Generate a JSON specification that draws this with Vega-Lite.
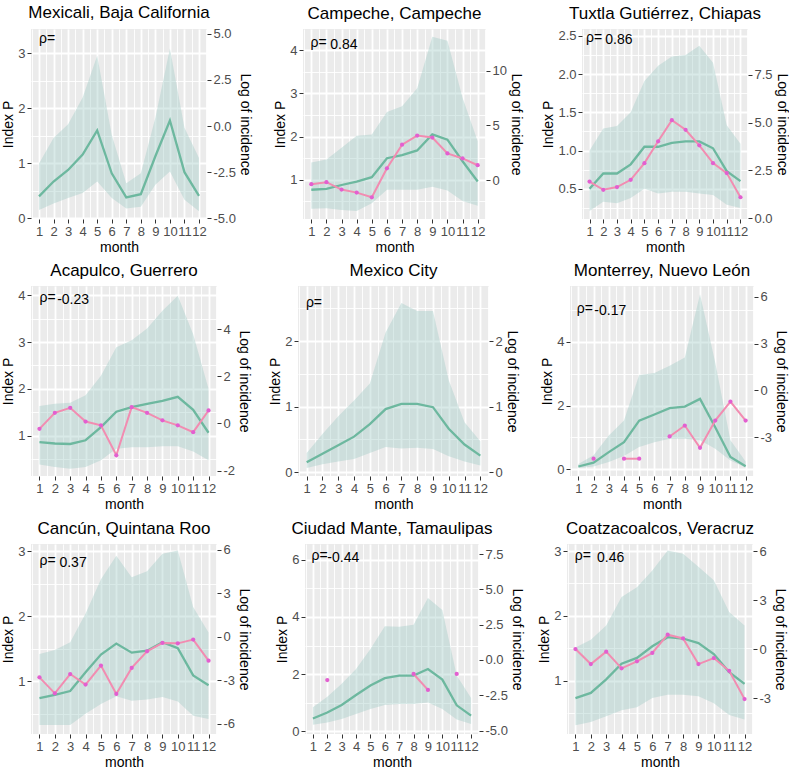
{
"$schema": "https://vega.github.io/schema/vega-lite/v6.json",
"padding": {"left": 1, "top": 3, "right": 0, "bottom": 0},
"background": "white",
"datasets": {
"green": [
{"city":"Mexicali","month":1,"p":0.40,"lo":0.15,"hi":1.00},{"city":"Mexicali","month":2,"p":0.67,"lo":0.27,"hi":1.46},{"city":"Mexicali","month":3,"p":0.88,"lo":0.37,"hi":1.71},{"city":"Mexicali","month":4,"p":1.16,"lo":0.46,"hi":2.20},{"city":"Mexicali","month":5,"p":1.60,"lo":0.67,"hi":2.96},{"city":"Mexicali","month":6,"p":0.82,"lo":0.37,"hi":1.52},{"city":"Mexicali","month":7,"p":0.38,"lo":0.18,"hi":0.64},{"city":"Mexicali","month":8,"p":0.44,"lo":0.21,"hi":0.82},{"city":"Mexicali","month":9,"p":1.13,"lo":0.61,"hi":1.83},{"city":"Mexicali","month":10,"p":1.78,"lo":0.85,"hi":3.09},{"city":"Mexicali","month":11,"p":0.84,"lo":0.34,"hi":1.65},{"city":"Mexicali","month":12,"p":0.41,"lo":0.13,"hi":1.10},
{"city":"Campeche","month":1,"p":0.77,"lo":0.33,"hi":1.40},{"city":"Campeche","month":2,"p":0.79,"lo":0.34,"hi":1.47},{"city":"Campeche","month":3,"p":0.88,"lo":0.30,"hi":1.74},{"city":"Campeche","month":4,"p":0.96,"lo":0.28,"hi":2.02},{"city":"Campeche","month":5,"p":1.06,"lo":0.46,"hi":2.05},{"city":"Campeche","month":6,"p":1.50,"lo":0.77,"hi":2.57},{"city":"Campeche","month":7,"p":1.57,"lo":0.77,"hi":2.70},{"city":"Campeche","month":8,"p":1.68,"lo":0.77,"hi":3.12},{"city":"Campeche","month":9,"p":2.05,"lo":0.84,"hi":4.31},{"city":"Campeche","month":10,"p":1.93,"lo":0.75,"hi":4.22},{"city":"Campeche","month":11,"p":1.43,"lo":0.51,"hi":2.90},{"city":"Campeche","month":12,"p":0.96,"lo":0.40,"hi":1.89},
{"city":"Tuxtla","month":1,"p":0.50,"lo":0.21,"hi":1.00},{"city":"Tuxtla","month":2,"p":0.70,"lo":0.33,"hi":1.29},{"city":"Tuxtla","month":3,"p":0.70,"lo":0.31,"hi":1.32},{"city":"Tuxtla","month":4,"p":0.82,"lo":0.38,"hi":1.50},{"city":"Tuxtla","month":5,"p":1.05,"lo":0.50,"hi":1.91},{"city":"Tuxtla","month":6,"p":1.05,"lo":0.44,"hi":2.11},{"city":"Tuxtla","month":7,"p":1.10,"lo":0.46,"hi":2.23},{"city":"Tuxtla","month":8,"p":1.12,"lo":0.46,"hi":2.25},{"city":"Tuxtla","month":9,"p":1.12,"lo":0.44,"hi":2.37},{"city":"Tuxtla","month":10,"p":1.03,"lo":0.42,"hi":2.15},{"city":"Tuxtla","month":11,"p":0.73,"lo":0.29,"hi":1.33},{"city":"Tuxtla","month":12,"p":0.60,"lo":0.25,"hi":1.09},
{"city":"Acapulco","month":1,"p":0.86,"lo":0.38,"hi":1.63},{"city":"Acapulco","month":2,"p":0.83,"lo":0.33,"hi":1.68},{"city":"Acapulco","month":3,"p":0.82,"lo":0.29,"hi":1.70},{"city":"Acapulco","month":4,"p":0.90,"lo":0.33,"hi":1.86},{"city":"Acapulco","month":5,"p":1.18,"lo":0.47,"hi":2.28},{"city":"Acapulco","month":6,"p":1.51,"lo":0.72,"hi":2.89},{"city":"Acapulco","month":7,"p":1.61,"lo":0.75,"hi":3.04},{"city":"Acapulco","month":8,"p":1.68,"lo":0.75,"hi":3.29},{"city":"Acapulco","month":9,"p":1.74,"lo":0.77,"hi":3.67},{"city":"Acapulco","month":10,"p":1.83,"lo":0.77,"hi":3.99},{"city":"Acapulco","month":11,"p":1.55,"lo":0.66,"hi":3.17},{"city":"Acapulco","month":12,"p":1.06,"lo":0.47,"hi":2.00},
{"city":"CDMX","month":1,"p":0.15,"lo":0.06,"hi":0.29},{"city":"CDMX","month":2,"p":0.28,"lo":0.12,"hi":0.58},{"city":"CDMX","month":3,"p":0.41,"lo":0.16,"hi":0.85},{"city":"CDMX","month":4,"p":0.54,"lo":0.20,"hi":1.09},{"city":"CDMX","month":5,"p":0.73,"lo":0.29,"hi":1.35},{"city":"CDMX","month":6,"p":0.96,"lo":0.38,"hi":2.13},{"city":"CDMX","month":7,"p":1.04,"lo":0.36,"hi":2.58},{"city":"CDMX","month":8,"p":1.04,"lo":0.37,"hi":2.46},{"city":"CDMX","month":9,"p":0.99,"lo":0.35,"hi":2.46},{"city":"CDMX","month":10,"p":0.66,"lo":0.24,"hi":1.40},{"city":"CDMX","month":11,"p":0.42,"lo":0.16,"hi":0.76},{"city":"CDMX","month":12,"p":0.25,"lo":0.10,"hi":0.47},
{"city":"Monterrey","month":1,"p":0.09,"lo":0.04,"hi":0.17},{"city":"Monterrey","month":2,"p":0.21,"lo":0.09,"hi":0.44},{"city":"Monterrey","month":3,"p":0.54,"lo":0.23,"hi":1.06},{"city":"Monterrey","month":4,"p":0.85,"lo":0.42,"hi":1.53},{"city":"Monterrey","month":5,"p":1.53,"lo":0.70,"hi":2.96},{"city":"Monterrey","month":6,"p":1.72,"lo":0.85,"hi":3.02},{"city":"Monterrey","month":7,"p":1.92,"lo":0.96,"hi":3.25},{"city":"Monterrey","month":8,"p":1.97,"lo":0.96,"hi":3.51},{"city":"Monterrey","month":9,"p":2.21,"lo":0.91,"hi":5.49},{"city":"Monterrey","month":10,"p":1.32,"lo":0.65,"hi":3.35},{"city":"Monterrey","month":11,"p":0.39,"lo":0.28,"hi":0.91},{"city":"Monterrey","month":12,"p":0.10,"lo":0.06,"hi":0.25},
{"city":"Cancun","month":1,"p":0.74,"lo":0.33,"hi":1.42},{"city":"Cancun","month":2,"p":0.79,"lo":0.33,"hi":1.48},{"city":"Cancun","month":3,"p":0.85,"lo":0.33,"hi":1.60},{"city":"Cancun","month":4,"p":1.14,"lo":0.50,"hi":2.04},{"city":"Cancun","month":5,"p":1.41,"lo":0.65,"hi":2.57},{"city":"Cancun","month":6,"p":1.58,"lo":0.77,"hi":2.93},{"city":"Cancun","month":7,"p":1.44,"lo":0.70,"hi":2.60},{"city":"Cancun","month":8,"p":1.47,"lo":0.72,"hi":2.69},{"city":"Cancun","month":9,"p":1.60,"lo":0.76,"hi":2.96},{"city":"Cancun","month":10,"p":1.51,"lo":0.69,"hi":3.01},{"city":"Cancun","month":11,"p":1.09,"lo":0.47,"hi":2.14},{"city":"Cancun","month":12,"p":0.94,"lo":0.42,"hi":1.75},
{"city":"Mante","month":1,"p":0.45,"lo":0.23,"hi":0.84},{"city":"Mante","month":2,"p":0.66,"lo":0.31,"hi":1.21},{"city":"Mante","month":3,"p":0.92,"lo":0.43,"hi":1.66},{"city":"Mante","month":4,"p":1.27,"lo":0.61,"hi":2.18},{"city":"Mante","month":5,"p":1.60,"lo":0.78,"hi":2.88},{"city":"Mante","month":6,"p":1.86,"lo":0.92,"hi":3.67},{"city":"Mante","month":7,"p":1.95,"lo":0.96,"hi":3.66},{"city":"Mante","month":8,"p":1.95,"lo":0.96,"hi":3.73},{"city":"Mante","month":9,"p":2.18,"lo":1.01,"hi":4.66},{"city":"Mante","month":10,"p":1.81,"lo":0.78,"hi":4.24},{"city":"Mante","month":11,"p":0.91,"lo":0.41,"hi":1.95},{"city":"Mante","month":12,"p":0.55,"lo":0.26,"hi":1.17},
{"city":"Coatza","month":1,"p":0.73,"lo":0.31,"hi":1.51},{"city":"Coatza","month":2,"p":0.81,"lo":0.36,"hi":1.63},{"city":"Coatza","month":3,"p":1.02,"lo":0.45,"hi":1.85},{"city":"Coatza","month":4,"p":1.26,"lo":0.54,"hi":2.29},{"city":"Coatza","month":5,"p":1.35,"lo":0.59,"hi":2.44},{"city":"Coatza","month":6,"p":1.53,"lo":0.73,"hi":2.70},{"city":"Coatza","month":7,"p":1.67,"lo":0.78,"hi":3.01},{"city":"Coatza","month":8,"p":1.65,"lo":0.78,"hi":2.96},{"city":"Coatza","month":9,"p":1.58,"lo":0.76,"hi":2.76},{"city":"Coatza","month":10,"p":1.41,"lo":0.65,"hi":2.55},{"city":"Coatza","month":11,"p":1.13,"lo":0.47,"hi":2.06},{"city":"Coatza","month":12,"p":0.95,"lo":0.40,"hi":1.85}
],
"pink": [
{"city":"Campeche","month":1,"v":-0.37,"seg":"a"},{"city":"Campeche","month":2,"v":-0.19,"seg":"a"},{"city":"Campeche","month":3,"v":-0.86,"seg":"a"},{"city":"Campeche","month":4,"v":-1.14,"seg":"a"},{"city":"Campeche","month":5,"v":-1.57,"seg":"a"},{"city":"Campeche","month":6,"v":1.08,"seg":"a"},{"city":"Campeche","month":7,"v":3.24,"seg":"a"},{"city":"Campeche","month":8,"v":4.07,"seg":"a"},{"city":"Campeche","month":9,"v":3.89,"seg":"a"},{"city":"Campeche","month":10,"v":2.44,"seg":"a"},{"city":"Campeche","month":11,"v":1.98,"seg":"a"},{"city":"Campeche","month":12,"v":1.36,"seg":"a"},
{"city":"Tuxtla","month":1,"v":1.92,"seg":"a"},{"city":"Tuxtla","month":2,"v":1.49,"seg":"a"},{"city":"Tuxtla","month":3,"v":1.63,"seg":"a"},{"city":"Tuxtla","month":4,"v":2.01,"seg":"a"},{"city":"Tuxtla","month":5,"v":2.88,"seg":"a"},{"city":"Tuxtla","month":6,"v":4.02,"seg":"a"},{"city":"Tuxtla","month":7,"v":5.12,"seg":"a"},{"city":"Tuxtla","month":8,"v":4.62,"seg":"a"},{"city":"Tuxtla","month":9,"v":3.81,"seg":"a"},{"city":"Tuxtla","month":10,"v":2.88,"seg":"a"},{"city":"Tuxtla","month":11,"v":2.36,"seg":"a"},{"city":"Tuxtla","month":12,"v":1.10,"seg":"a"},
{"city":"Acapulco","month":1,"v":-0.23,"seg":"a"},{"city":"Acapulco","month":2,"v":0.45,"seg":"a"},{"city":"Acapulco","month":3,"v":0.66,"seg":"a"},{"city":"Acapulco","month":4,"v":0.08,"seg":"a"},{"city":"Acapulco","month":5,"v":-0.08,"seg":"a"},{"city":"Acapulco","month":6,"v":-1.35,"seg":"a"},{"city":"Acapulco","month":7,"v":0.69,"seg":"a"},{"city":"Acapulco","month":8,"v":0.45,"seg":"a"},{"city":"Acapulco","month":9,"v":0.13,"seg":"a"},{"city":"Acapulco","month":10,"v":-0.08,"seg":"a"},{"city":"Acapulco","month":11,"v":-0.37,"seg":"a"},{"city":"Acapulco","month":12,"v":0.55,"seg":"a"},
{"city":"Monterrey","month":2,"v":-4.39,"seg":"a"},{"city":"Monterrey","month":4,"v":-4.39,"seg":"b"},{"city":"Monterrey","month":5,"v":-4.39,"seg":"b"},{"city":"Monterrey","month":7,"v":-2.96,"seg":"c"},{"city":"Monterrey","month":8,"v":-2.26,"seg":"c"},{"city":"Monterrey","month":9,"v":-3.69,"seg":"c"},{"city":"Monterrey","month":10,"v":-1.94,"seg":"c"},{"city":"Monterrey","month":11,"v":-0.72,"seg":"c"},{"city":"Monterrey","month":12,"v":-1.94,"seg":"c"},
{"city":"Cancun","month":1,"v":-2.79,"seg":"a"},{"city":"Cancun","month":2,"v":-3.89,"seg":"a"},{"city":"Cancun","month":3,"v":-2.56,"seg":"a"},{"city":"Cancun","month":4,"v":-3.29,"seg":"a"},{"city":"Cancun","month":5,"v":-1.98,"seg":"a"},{"city":"Cancun","month":6,"v":-3.93,"seg":"a"},{"city":"Cancun","month":7,"v":-2.14,"seg":"a"},{"city":"Cancun","month":8,"v":-1.00,"seg":"a"},{"city":"Cancun","month":9,"v":-0.42,"seg":"a"},{"city":"Cancun","month":10,"v":-0.45,"seg":"a"},{"city":"Cancun","month":11,"v":-0.19,"seg":"a"},{"city":"Cancun","month":12,"v":-1.64,"seg":"a"},
{"city":"Mante","month":2,"v":-1.42,"seg":"a"},{"city":"Mante","month":8,"v":-0.99,"seg":"b"},{"city":"Mante","month":9,"v":-2.12,"seg":"b"},{"city":"Mante","month":11,"v":-0.99,"seg":"c"},
{"city":"Coatza","month":1,"v":0.02,"seg":"a"},{"city":"Coatza","month":2,"v":-0.90,"seg":"a"},{"city":"Coatza","month":3,"v":-0.14,"seg":"a"},{"city":"Coatza","month":4,"v":-1.16,"seg":"a"},{"city":"Coatza","month":5,"v":-0.73,"seg":"a"},{"city":"Coatza","month":6,"v":-0.22,"seg":"a"},{"city":"Coatza","month":7,"v":0.90,"seg":"a"},{"city":"Coatza","month":8,"v":0.67,"seg":"a"},{"city":"Coatza","month":9,"v":-0.90,"seg":"a"},{"city":"Coatza","month":10,"v":-0.53,"seg":"a"},{"city":"Coatza","month":11,"v":-1.31,"seg":"a"},{"city":"Coatza","month":12,"v":-3.04,"seg":"a"}
],
"rho": [
{"city":"Mexicali","r":""},{"city":"Campeche","r":"0.84"},{"city":"Tuxtla","r":"0.86"},{"city":"Acapulco","r":"-0.23"},{"city":"CDMX","r":""},{"city":"Monterrey","r":"-0.17"},{"city":"Cancun","r":"0.37"},{"city":"Mante","r":"-0.44"},{"city":"Coatza","r":"0.46"}
]
},
"vconcat": [
{"hconcat": [
{"title": "Mexicali, Baja California", "width": 176, "height": 190,
 "layer": [
  {"layer": [
   {"data": {"name": "green"}, "transform": [{"filter": "datum.city === 'Mexicali'"}],
    "mark": {"type": "area", "color": "#9FCAC5", "opacity": 0.4},
    "encoding": {
     "x": {"field": "month", "type": "quantitative", "scale": {"domain": [0.45, 12.55], "nice": false, "zero": false}, "axis": {"title": "month", "format": ".2f", "tickCount": 100, "labelOverlap": false, "gridColor": "white", "values": [0.5,1,1.5,2,2.5,3,3.5,4,4.5,5,5.5,6,6.5,7,7.5,8,8.5,9,9.5,10,10.5,11,11.5,12,12.5], "labelExpr": "datum.value % 1 === 0 ? format(datum.value, 'd') : ''", "tickOpacity": {"condition": {"test": "datum.value % 1 !== 0", "value": 0}, "value": 1}, "gridWidth": {"condition": {"test": "datum.value % 1 !== 0", "value": 0.9}, "value": 1.8}, "grid": true}},
     "y": {"field": "lo", "type": "quantitative", "title": "Index P", "scale": {"domain": [-0.012, 3.445], "nice": false, "zero": false}, "axis": {"format": ".2f", "tickCount": 100, "labelOverlap": false, "gridColor": "white", "values": [0,0.5,1,1.5,2,2.5,3], "labelExpr": "indexof([0,1,2,3], datum.value) >= 0 ? format(datum.value, 'd') : ''", "tickOpacity": {"condition": {"test": "indexof([0,1,2,3], datum.value) < 0", "value": 0}, "value": 1}, "gridWidth": {"condition": {"test": "indexof([0,1,2,3], datum.value) < 0", "value": 0.9}, "value": 1.8}, "grid": true}},
     "y2": {"field": "hi"}}},
   {"data": {"name": "green"}, "transform": [{"filter": "datum.city === 'Mexicali'"}],
    "mark": {"type": "line", "color": "#6DB89F", "strokeWidth": 2.3},
    "encoding": {"x": {"field": "month", "type": "quantitative"}, "y": {"field": "p", "type": "quantitative", "title": "Index P"}}},
   {"data": {"name": "rho"}, "transform": [{"filter": "datum.city === 'Mexicali'"}],
    "mark": {"type": "text", "align": "left", "baseline": "top", "fontSize": 14, "text": "ρ=", "color": "black"},
    "encoding": {"x": {"datum": 1, "type": "quantitative"}, "y": {"datum": 3.39, "type": "quantitative"}}}
  ]},
  {"layer": [
   {"data": {"name": "pink"}, "transform": [{"filter": "datum.city === 'Mexicali'"}],
    "mark": {"type": "line", "color": "#F28CB1", "strokeWidth": 2},
    "encoding": {"x": {"field": "month", "type": "quantitative"}, "detail": {"field": "seg"},
     "y": {"field": "v", "type": "quantitative", "title": "Log of incidence", "scale": {"domain": [-5.05, 5.27], "nice": false, "zero": false}, "axis": {"orient": "right", "grid": false, "tickCount": 100, "labelOverlap": false, "values": [-5,-2.5,0,2.5,5], "format": ".1f", "labelExpr": "replace(datum.label, '−', '-')"}}}},
   {"data": {"name": "pink"}, "transform": [{"filter": "datum.city === 'Mexicali'"}],
    "mark": {"type": "circle", "color": "#E35FD0", "size": 18, "opacity": 1},
    "encoding": {"x": {"field": "month", "type": "quantitative"}, "y": {"field": "v", "type": "quantitative", "title": "Log of incidence"}}}
  ]}
 ],
 "resolve": {"scale": {"y": "independent"}, "axis": {"y": "independent"}}},
{"title": "Campeche, Campeche", "width": 183, "height": 190,
 "layer": [
  {"layer": [
   {"data": {"name": "green"}, "transform": [{"filter": "datum.city === 'Campeche'"}],
    "mark": {"type": "area", "color": "#9FCAC5", "opacity": 0.4},
    "encoding": {
     "x": {"field": "month", "type": "quantitative", "scale": {"domain": [0.45, 12.55], "nice": false, "zero": false}, "axis": {"title": "month", "format": ".2f", "tickCount": 100, "labelOverlap": false, "gridColor": "white", "values": [0.5,1,1.5,2,2.5,3,3.5,4,4.5,5,5.5,6,6.5,7,7.5,8,8.5,9,9.5,10,10.5,11,11.5,12,12.5], "labelExpr": "datum.value % 1 === 0 ? format(datum.value, 'd') : ''", "tickOpacity": {"condition": {"test": "datum.value % 1 !== 0", "value": 0}, "value": 1}, "gridWidth": {"condition": {"test": "datum.value % 1 !== 0", "value": 0.9}, "value": 1.8}, "grid": true}},
     "y": {"field": "lo", "type": "quantitative", "title": "Index P", "scale": {"domain": [0.093, 4.49], "nice": false, "zero": false}, "axis": {"format": ".2f", "tickCount": 100, "labelOverlap": false, "gridColor": "white", "values": [0.5,1,1.5,2,2.5,3,3.5,4], "labelExpr": "indexof([1,2,3,4], datum.value) >= 0 ? format(datum.value, 'd') : ''", "tickOpacity": {"condition": {"test": "indexof([1,2,3,4], datum.value) < 0", "value": 0}, "value": 1}, "gridWidth": {"condition": {"test": "indexof([1,2,3,4], datum.value) < 0", "value": 0.9}, "value": 1.8}, "grid": true}},
     "y2": {"field": "hi"}}},
   {"data": {"name": "green"}, "transform": [{"filter": "datum.city === 'Campeche'"}],
    "mark": {"type": "line", "color": "#6DB89F", "strokeWidth": 2.3},
    "encoding": {"x": {"field": "month", "type": "quantitative"}, "y": {"field": "p", "type": "quantitative", "title": "Index P"}}},
   {"data": {"name": "rho"}, "transform": [{"filter": "datum.city === 'Campeche'"}],
    "mark": {"type": "text", "align": "left", "baseline": "top", "fontSize": 14, "text": "ρ=", "color": "black"},
    "encoding": {"x": {"datum": 0.95, "type": "quantitative"}, "y": {"datum": 4.33, "type": "quantitative"}}},
   {"data": {"name": "rho"}, "transform": [{"filter": "datum.city === 'Campeche'"}],
    "mark": {"type": "text", "align": "left", "baseline": "top", "fontSize": 14, "dy": 2, "color": "black"},
    "encoding": {"x": {"datum": 2.25, "type": "quantitative"}, "y": {"datum": 4.33, "type": "quantitative"}, "text": {"field": "r"}}}
  ]},
  {"layer": [
   {"data": {"name": "pink"}, "transform": [{"filter": "datum.city === 'Campeche'"}],
    "mark": {"type": "line", "color": "#F28CB1", "strokeWidth": 2},
    "encoding": {"x": {"field": "month", "type": "quantitative"}, "detail": {"field": "seg"},
     "y": {"field": "v", "type": "quantitative", "title": "Log of incidence", "scale": {"domain": [-3.55, 13.8], "nice": false, "zero": false}, "axis": {"orient": "right", "grid": false, "tickCount": 100, "labelOverlap": false, "values": [0,5,10], "format": "d", "labelExpr": "replace(datum.label, '−', '-')"}}}},
   {"data": {"name": "pink"}, "transform": [{"filter": "datum.city === 'Campeche'"}],
    "mark": {"type": "circle", "color": "#E35FD0", "size": 18, "opacity": 1},
    "encoding": {"x": {"field": "month", "type": "quantitative"}, "y": {"field": "v", "type": "quantitative", "title": "Log of incidence"}}}
  ]}
 ],
 "resolve": {"scale": {"y": "independent"}, "axis": {"y": "independent"}}},
{"title": "Tuxtla Gutiérrez, Chiapas", "width": 166, "height": 190,
 "layer": [
  {"layer": [
   {"data": {"name": "green"}, "transform": [{"filter": "datum.city === 'Tuxtla'"}],
    "mark": {"type": "area", "color": "#9FCAC5", "opacity": 0.4},
    "encoding": {
     "x": {"field": "month", "type": "quantitative", "scale": {"domain": [0.45, 12.55], "nice": false, "zero": false}, "axis": {"title": "month", "format": ".2f", "tickCount": 100, "labelOverlap": false, "gridColor": "white", "values": [0.5,1,1.5,2,2.5,3,3.5,4,4.5,5,5.5,6,6.5,7,7.5,8,8.5,9,9.5,10,10.5,11,11.5,12,12.5], "labelExpr": "datum.value % 1 === 0 ? format(datum.value, 'd') : ''", "tickOpacity": {"condition": {"test": "datum.value % 1 !== 0", "value": 0}, "value": 1}, "gridWidth": {"condition": {"test": "datum.value % 1 !== 0", "value": 0.9}, "value": 1.8}, "grid": true}},
     "y": {"field": "lo", "type": "quantitative", "title": "Index P", "scale": {"domain": [0.105, 2.59], "nice": false, "zero": false}, "axis": {"format": ".2f", "tickCount": 100, "labelOverlap": false, "gridColor": "white", "values": [0.25,0.5,0.75,1,1.25,1.5,1.75,2,2.25,2.5], "labelExpr": "indexof([0.5,1,1.5,2,2.5], datum.value) >= 0 ? format(datum.value, '.1f') : ''", "tickOpacity": {"condition": {"test": "indexof([0.5,1,1.5,2,2.5], datum.value) < 0", "value": 0}, "value": 1}, "gridWidth": {"condition": {"test": "indexof([0.5,1,1.5,2,2.5], datum.value) < 0", "value": 0.9}, "value": 1.8}, "grid": true}},
     "y2": {"field": "hi"}}},
   {"data": {"name": "green"}, "transform": [{"filter": "datum.city === 'Tuxtla'"}],
    "mark": {"type": "line", "color": "#6DB89F", "strokeWidth": 2.3},
    "encoding": {"x": {"field": "month", "type": "quantitative"}, "y": {"field": "p", "type": "quantitative", "title": "Index P"}}},
   {"data": {"name": "rho"}, "transform": [{"filter": "datum.city === 'Tuxtla'"}],
    "mark": {"type": "text", "align": "left", "baseline": "top", "fontSize": 14, "text": "ρ=", "color": "black"},
    "encoding": {"x": {"datum": 0.75, "type": "quantitative"}, "y": {"datum": 2.56, "type": "quantitative"}}},
   {"data": {"name": "rho"}, "transform": [{"filter": "datum.city === 'Tuxtla'"}],
    "mark": {"type": "text", "align": "left", "baseline": "top", "fontSize": 14, "dy": 2, "color": "black"},
    "encoding": {"x": {"datum": 2.15, "type": "quantitative"}, "y": {"datum": 2.56, "type": "quantitative"}, "text": {"field": "r"}}}
  ]},
  {"layer": [
   {"data": {"name": "pink"}, "transform": [{"filter": "datum.city === 'Tuxtla'"}],
    "mark": {"type": "line", "color": "#F28CB1", "strokeWidth": 2},
    "encoding": {"x": {"field": "month", "type": "quantitative"}, "detail": {"field": "seg"},
     "y": {"field": "v", "type": "quantitative", "title": "Log of incidence", "scale": {"domain": [-0.035, 9.88], "nice": false, "zero": false}, "axis": {"orient": "right", "grid": false, "tickCount": 100, "labelOverlap": false, "values": [0,2.5,5,7.5], "format": ".1f", "labelExpr": "replace(datum.label, '−', '-')"}}}},
   {"data": {"name": "pink"}, "transform": [{"filter": "datum.city === 'Tuxtla'"}],
    "mark": {"type": "circle", "color": "#E35FD0", "size": 18, "opacity": 1},
    "encoding": {"x": {"field": "month", "type": "quantitative"}, "y": {"field": "v", "type": "quantitative", "title": "Log of incidence"}}}
  ]}
 ],
 "resolve": {"scale": {"y": "independent"}, "axis": {"y": "independent"}}}
], "spacing": 96, "bounds": "flush"},
{"hconcat": [
{"title": "Acapulco, Guerrero", "width": 186, "height": 190,
 "layer": [
  {"layer": [
   {"data": {"name": "green"}, "transform": [{"filter": "datum.city === 'Acapulco'"}],
    "mark": {"type": "area", "color": "#9FCAC5", "opacity": 0.4},
    "encoding": {
     "x": {"field": "month", "type": "quantitative", "scale": {"domain": [0.45, 12.55], "nice": false, "zero": false}, "axis": {"title": "month", "format": ".2f", "tickCount": 100, "labelOverlap": false, "gridColor": "white", "values": [0.5,1,1.5,2,2.5,3,3.5,4,4.5,5,5.5,6,6.5,7,7.5,8,8.5,9,9.5,10,10.5,11,11.5,12,12.5], "labelExpr": "datum.value % 1 === 0 ? format(datum.value, 'd') : ''", "tickOpacity": {"condition": {"test": "datum.value % 1 !== 0", "value": 0}, "value": 1}, "gridWidth": {"condition": {"test": "datum.value % 1 !== 0", "value": 0.9}, "value": 1.8}, "grid": true}},
     "y": {"field": "lo", "type": "quantitative", "title": "Index P", "scale": {"domain": [0.135, 4.2], "nice": false, "zero": false}, "axis": {"format": ".2f", "tickCount": 100, "labelOverlap": false, "gridColor": "white", "values": [0.5,1,1.5,2,2.5,3,3.5,4], "labelExpr": "indexof([1,2,3,4], datum.value) >= 0 ? format(datum.value, 'd') : ''", "tickOpacity": {"condition": {"test": "indexof([1,2,3,4], datum.value) < 0", "value": 0}, "value": 1}, "gridWidth": {"condition": {"test": "indexof([1,2,3,4], datum.value) < 0", "value": 0.9}, "value": 1.8}, "grid": true}},
     "y2": {"field": "hi"}}},
   {"data": {"name": "green"}, "transform": [{"filter": "datum.city === 'Acapulco'"}],
    "mark": {"type": "line", "color": "#6DB89F", "strokeWidth": 2.3},
    "encoding": {"x": {"field": "month", "type": "quantitative"}, "y": {"field": "p", "type": "quantitative", "title": "Index P"}}},
   {"data": {"name": "rho"}, "transform": [{"filter": "datum.city === 'Acapulco'"}],
    "mark": {"type": "text", "align": "left", "baseline": "top", "fontSize": 14, "text": "ρ=", "color": "black"},
    "encoding": {"x": {"datum": 1, "type": "quantitative"}, "y": {"datum": 4.09, "type": "quantitative"}}},
   {"data": {"name": "rho"}, "transform": [{"filter": "datum.city === 'Acapulco'"}],
    "mark": {"type": "text", "align": "left", "baseline": "top", "fontSize": 14, "dy": 2, "color": "black"},
    "encoding": {"x": {"datum": 2.15, "type": "quantitative"}, "y": {"datum": 4.09, "type": "quantitative"}, "text": {"field": "r"}}}
  ]},
  {"layer": [
   {"data": {"name": "pink"}, "transform": [{"filter": "datum.city === 'Acapulco'"}],
    "mark": {"type": "line", "color": "#F28CB1", "strokeWidth": 2},
    "encoding": {"x": {"field": "month", "type": "quantitative"}, "detail": {"field": "seg"},
     "y": {"field": "v", "type": "quantitative", "title": "Log of incidence", "scale": {"domain": [-2.23, 5.83], "nice": false, "zero": false}, "axis": {"orient": "right", "grid": false, "tickCount": 100, "labelOverlap": false, "values": [-2,0,2,4], "format": "d", "labelExpr": "replace(datum.label, '−', '-')"}}}},
   {"data": {"name": "pink"}, "transform": [{"filter": "datum.city === 'Acapulco'"}],
    "mark": {"type": "circle", "color": "#E35FD0", "size": 18, "opacity": 1},
    "encoding": {"x": {"field": "month", "type": "quantitative"}, "y": {"field": "v", "type": "quantitative", "title": "Log of incidence"}}}
  ]}
 ],
 "resolve": {"scale": {"y": "independent"}, "axis": {"y": "independent"}}},
{"title": "Mexico City", "width": 191, "height": 190,
 "layer": [
  {"layer": [
   {"data": {"name": "green"}, "transform": [{"filter": "datum.city === 'CDMX'"}],
    "mark": {"type": "area", "color": "#9FCAC5", "opacity": 0.4},
    "encoding": {
     "x": {"field": "month", "type": "quantitative", "scale": {"domain": [0.45, 12.55], "nice": false, "zero": false}, "axis": {"title": "month", "format": ".2f", "tickCount": 100, "labelOverlap": false, "gridColor": "white", "values": [0.5,1,1.5,2,2.5,3,3.5,4,4.5,5,5.5,6,6.5,7,7.5,8,8.5,9,9.5,10,10.5,11,11.5,12,12.5], "labelExpr": "datum.value % 1 === 0 ? format(datum.value, 'd') : ''", "tickOpacity": {"condition": {"test": "datum.value % 1 !== 0", "value": 0}, "value": 1}, "gridWidth": {"condition": {"test": "datum.value % 1 !== 0", "value": 0.9}, "value": 1.8}, "grid": true}},
     "y": {"field": "lo", "type": "quantitative", "title": "Index P", "scale": {"domain": [-0.061, 2.84], "nice": false, "zero": false}, "axis": {"format": ".2f", "tickCount": 100, "labelOverlap": false, "gridColor": "white", "values": [0,0.5,1,1.5,2,2.5], "labelExpr": "indexof([0,1,2], datum.value) >= 0 ? format(datum.value, 'd') : ''", "tickOpacity": {"condition": {"test": "indexof([0,1,2], datum.value) < 0", "value": 0}, "value": 1}, "gridWidth": {"condition": {"test": "indexof([0,1,2], datum.value) < 0", "value": 0.9}, "value": 1.8}, "grid": true}},
     "y2": {"field": "hi"}}},
   {"data": {"name": "green"}, "transform": [{"filter": "datum.city === 'CDMX'"}],
    "mark": {"type": "line", "color": "#6DB89F", "strokeWidth": 2.3},
    "encoding": {"x": {"field": "month", "type": "quantitative"}, "y": {"field": "p", "type": "quantitative", "title": "Index P"}}},
   {"data": {"name": "rho"}, "transform": [{"filter": "datum.city === 'CDMX'"}],
    "mark": {"type": "text", "align": "left", "baseline": "top", "fontSize": 14, "text": "ρ=", "color": "black"},
    "encoding": {"x": {"datum": 0.95, "type": "quantitative"}, "y": {"datum": 2.69, "type": "quantitative"}}}
  ]},
  {"layer": [
   {"data": {"name": "pink"}, "transform": [{"filter": "datum.city === 'CDMX'"}],
    "mark": {"type": "line", "color": "#F28CB1", "strokeWidth": 2},
    "encoding": {"x": {"field": "month", "type": "quantitative"}, "detail": {"field": "seg"},
     "y": {"field": "v", "type": "quantitative", "title": "Log of incidence", "scale": {"domain": [-0.061, 2.84], "nice": false, "zero": false}, "axis": {"orient": "right", "grid": false, "tickCount": 100, "labelOverlap": false, "values": [0,1,2], "format": "d", "labelExpr": "replace(datum.label, '−', '-')"}}}},
   {"data": {"name": "pink"}, "transform": [{"filter": "datum.city === 'CDMX'"}],
    "mark": {"type": "circle", "color": "#E35FD0", "size": 18, "opacity": 1},
    "encoding": {"x": {"field": "month", "type": "quantitative"}, "y": {"field": "v", "type": "quantitative", "title": "Log of incidence"}}}
  ]}
 ],
 "resolve": {"scale": {"y": "independent"}, "axis": {"y": "independent"}}},
{"title": "Monterrey, Nuevo León", "width": 184, "height": 190,
 "layer": [
  {"layer": [
   {"data": {"name": "green"}, "transform": [{"filter": "datum.city === 'Monterrey'"}],
    "mark": {"type": "area", "color": "#9FCAC5", "opacity": 0.4},
    "encoding": {
     "x": {"field": "month", "type": "quantitative", "scale": {"domain": [0.45, 12.55], "nice": false, "zero": false}, "axis": {"title": "month", "format": ".2f", "tickCount": 100, "labelOverlap": false, "gridColor": "white", "values": [0.5,1,1.5,2,2.5,3,3.5,4,4.5,5,5.5,6,6.5,7,7.5,8,8.5,9,9.5,10,10.5,11,11.5,12,12.5], "labelExpr": "datum.value % 1 === 0 ? format(datum.value, 'd') : ''", "tickOpacity": {"condition": {"test": "datum.value % 1 !== 0", "value": 0}, "value": 1}, "gridWidth": {"condition": {"test": "datum.value % 1 !== 0", "value": 0.9}, "value": 1.8}, "grid": true}},
     "y": {"field": "lo", "type": "quantitative", "title": "Index P", "scale": {"domain": [-0.208, 5.75], "nice": false, "zero": false}, "axis": {"format": ".2f", "tickCount": 100, "labelOverlap": false, "gridColor": "white", "values": [0,1,2,3,4,5], "labelExpr": "indexof([0,2,4], datum.value) >= 0 ? format(datum.value, 'd') : ''", "tickOpacity": {"condition": {"test": "indexof([0,2,4], datum.value) < 0", "value": 0}, "value": 1}, "gridWidth": {"condition": {"test": "indexof([0,2,4], datum.value) < 0", "value": 0.9}, "value": 1.8}, "grid": true}},
     "y2": {"field": "hi"}}},
   {"data": {"name": "green"}, "transform": [{"filter": "datum.city === 'Monterrey'"}],
    "mark": {"type": "line", "color": "#6DB89F", "strokeWidth": 2.3},
    "encoding": {"x": {"field": "month", "type": "quantitative"}, "y": {"field": "p", "type": "quantitative", "title": "Index P"}}},
   {"data": {"name": "rho"}, "transform": [{"filter": "datum.city === 'Monterrey'"}],
    "mark": {"type": "text", "align": "left", "baseline": "top", "fontSize": 14, "text": "ρ=", "color": "black"},
    "encoding": {"x": {"datum": 0.9, "type": "quantitative"}, "y": {"datum": 5.25, "type": "quantitative"}}},
   {"data": {"name": "rho"}, "transform": [{"filter": "datum.city === 'Monterrey'"}],
    "mark": {"type": "text", "align": "left", "baseline": "top", "fontSize": 14, "dy": 2, "color": "black"},
    "encoding": {"x": {"datum": 2.05, "type": "quantitative"}, "y": {"datum": 5.25, "type": "quantitative"}, "text": {"field": "r"}}}
  ]},
  {"layer": [
   {"data": {"name": "pink"}, "transform": [{"filter": "datum.city === 'Monterrey'"}],
    "mark": {"type": "line", "color": "#F28CB1", "strokeWidth": 2},
    "encoding": {"x": {"field": "month", "type": "quantitative"}, "detail": {"field": "seg"},
     "y": {"field": "v", "type": "quantitative", "title": "Log of incidence", "scale": {"domain": [-5.5, 6.7], "nice": false, "zero": false}, "axis": {"orient": "right", "grid": false, "tickCount": 100, "labelOverlap": false, "values": [-3,0,3,6], "format": "d", "labelExpr": "replace(datum.label, '−', '-')"}}}},
   {"data": {"name": "pink"}, "transform": [{"filter": "datum.city === 'Monterrey'"}],
    "mark": {"type": "circle", "color": "#E35FD0", "size": 18, "opacity": 1},
    "encoding": {"x": {"field": "month", "type": "quantitative"}, "y": {"field": "v", "type": "quantitative", "title": "Log of incidence"}}}
  ]}
 ],
 "resolve": {"scale": {"y": "independent"}, "axis": {"y": "independent"}}}
], "spacing": 81, "bounds": "flush"},
{"hconcat": [
{"title": "Cancún, Quintana Roo", "width": 186, "height": 190,
 "layer": [
  {"layer": [
   {"data": {"name": "green"}, "transform": [{"filter": "datum.city === 'Cancun'"}],
    "mark": {"type": "area", "color": "#9FCAC5", "opacity": 0.4},
    "encoding": {
     "x": {"field": "month", "type": "quantitative", "scale": {"domain": [0.45, 12.55], "nice": false, "zero": false}, "axis": {"title": "month", "format": ".2f", "tickCount": 100, "labelOverlap": false, "gridColor": "white", "values": [0.5,1,1.5,2,2.5,3,3.5,4,4.5,5,5.5,6,6.5,7,7.5,8,8.5,9,9.5,10,10.5,11,11.5,12,12.5], "labelExpr": "datum.value % 1 === 0 ? format(datum.value, 'd') : ''", "tickOpacity": {"condition": {"test": "datum.value % 1 !== 0", "value": 0}, "value": 1}, "gridWidth": {"condition": {"test": "datum.value % 1 !== 0", "value": 0.9}, "value": 1.8}, "grid": true}},
     "y": {"field": "lo", "type": "quantitative", "title": "Index P", "scale": {"domain": [0.19, 3.11], "nice": false, "zero": false}, "axis": {"format": ".2f", "tickCount": 100, "labelOverlap": false, "gridColor": "white", "values": [0.5,1,1.5,2,2.5,3], "labelExpr": "indexof([1,2,3], datum.value) >= 0 ? format(datum.value, 'd') : ''", "tickOpacity": {"condition": {"test": "indexof([1,2,3], datum.value) < 0", "value": 0}, "value": 1}, "gridWidth": {"condition": {"test": "indexof([1,2,3], datum.value) < 0", "value": 0.9}, "value": 1.8}, "grid": true}},
     "y2": {"field": "hi"}}},
   {"data": {"name": "green"}, "transform": [{"filter": "datum.city === 'Cancun'"}],
    "mark": {"type": "line", "color": "#6DB89F", "strokeWidth": 2.3},
    "encoding": {"x": {"field": "month", "type": "quantitative"}, "y": {"field": "p", "type": "quantitative", "title": "Index P"}}},
   {"data": {"name": "rho"}, "transform": [{"filter": "datum.city === 'Cancun'"}],
    "mark": {"type": "text", "align": "left", "baseline": "top", "fontSize": 14, "text": "ρ=", "color": "black"},
    "encoding": {"x": {"datum": 1, "type": "quantitative"}, "y": {"datum": 2.96, "type": "quantitative"}}},
   {"data": {"name": "rho"}, "transform": [{"filter": "datum.city === 'Cancun'"}],
    "mark": {"type": "text", "align": "left", "baseline": "top", "fontSize": 14, "dy": 2, "color": "black"},
    "encoding": {"x": {"datum": 2.3, "type": "quantitative"}, "y": {"datum": 2.96, "type": "quantitative"}, "text": {"field": "r"}}}
  ]},
  {"layer": [
   {"data": {"name": "pink"}, "transform": [{"filter": "datum.city === 'Cancun'"}],
    "mark": {"type": "line", "color": "#F28CB1", "strokeWidth": 2},
    "encoding": {"x": {"field": "month", "type": "quantitative"}, "detail": {"field": "seg"},
     "y": {"field": "v", "type": "quantitative", "title": "Log of incidence", "scale": {"domain": [-6.69, 6.39], "nice": false, "zero": false}, "axis": {"orient": "right", "grid": false, "tickCount": 100, "labelOverlap": false, "values": [-6,-3,0,3,6], "format": "d", "labelExpr": "replace(datum.label, '−', '-')"}}}},
   {"data": {"name": "pink"}, "transform": [{"filter": "datum.city === 'Cancun'"}],
    "mark": {"type": "circle", "color": "#E35FD0", "size": 18, "opacity": 1},
    "encoding": {"x": {"field": "month", "type": "quantitative"}, "y": {"field": "v", "type": "quantitative", "title": "Log of incidence"}}}
  ]}
 ],
 "resolve": {"scale": {"y": "independent"}, "axis": {"y": "independent"}}},
{"title": "Ciudad Mante, Tamaulipas", "width": 174, "height": 190,
 "layer": [
  {"layer": [
   {"data": {"name": "green"}, "transform": [{"filter": "datum.city === 'Mante'"}],
    "mark": {"type": "area", "color": "#9FCAC5", "opacity": 0.4},
    "encoding": {
     "x": {"field": "month", "type": "quantitative", "scale": {"domain": [0.45, 12.55], "nice": false, "zero": false}, "axis": {"title": "month", "format": ".2f", "tickCount": 100, "labelOverlap": false, "gridColor": "white", "values": [0.5,1,1.5,2,2.5,3,3.5,4,4.5,5,5.5,6,6.5,7,7.5,8,8.5,9,9.5,10,10.5,11,11.5,12,12.5], "labelExpr": "datum.value % 1 === 0 ? format(datum.value, 'd') : ''", "tickOpacity": {"condition": {"test": "datum.value % 1 !== 0", "value": 0}, "value": 1}, "gridWidth": {"condition": {"test": "datum.value % 1 !== 0", "value": 0.9}, "value": 1.8}, "grid": true}},
     "y": {"field": "lo", "type": "quantitative", "title": "Index P", "scale": {"domain": [-0.093, 6.55], "nice": false, "zero": false}, "axis": {"format": ".2f", "tickCount": 100, "labelOverlap": false, "gridColor": "white", "values": [0,1,2,3,4,5,6], "labelExpr": "indexof([0,2,4,6], datum.value) >= 0 ? format(datum.value, 'd') : ''", "tickOpacity": {"condition": {"test": "indexof([0,2,4,6], datum.value) < 0", "value": 0}, "value": 1}, "gridWidth": {"condition": {"test": "indexof([0,2,4,6], datum.value) < 0", "value": 0.9}, "value": 1.8}, "grid": true}},
     "y2": {"field": "hi"}}},
   {"data": {"name": "green"}, "transform": [{"filter": "datum.city === 'Mante'"}],
    "mark": {"type": "line", "color": "#6DB89F", "strokeWidth": 2.3},
    "encoding": {"x": {"field": "month", "type": "quantitative"}, "y": {"field": "p", "type": "quantitative", "title": "Index P"}}},
   {"data": {"name": "rho"}, "transform": [{"filter": "datum.city === 'Mante'"}],
    "mark": {"type": "text", "align": "left", "baseline": "top", "fontSize": 14, "text": "ρ=", "color": "black"},
    "encoding": {"x": {"datum": 0.9, "type": "quantitative"}, "y": {"datum": 6.38, "type": "quantitative"}}},
   {"data": {"name": "rho"}, "transform": [{"filter": "datum.city === 'Mante'"}],
    "mark": {"type": "text", "align": "left", "baseline": "top", "fontSize": 14, "dy": 2, "color": "black"},
    "encoding": {"x": {"datum": 2.0, "type": "quantitative"}, "y": {"datum": 6.38, "type": "quantitative"}, "text": {"field": "r"}}}
  ]},
  {"layer": [
   {"data": {"name": "pink"}, "transform": [{"filter": "datum.city === 'Mante'"}],
    "mark": {"type": "line", "color": "#F28CB1", "strokeWidth": 2},
    "encoding": {"x": {"field": "month", "type": "quantitative"}, "detail": {"field": "seg"},
     "y": {"field": "v", "type": "quantitative", "title": "Log of incidence", "scale": {"domain": [-5.24, 8.21], "nice": false, "zero": false}, "axis": {"orient": "right", "grid": false, "tickCount": 100, "labelOverlap": false, "values": [-5,-2.5,0,2.5,5,7.5], "format": ".1f", "labelExpr": "replace(datum.label, '−', '-')"}}}},
   {"data": {"name": "pink"}, "transform": [{"filter": "datum.city === 'Mante'"}],
    "mark": {"type": "circle", "color": "#E35FD0", "size": 18, "opacity": 1},
    "encoding": {"x": {"field": "month", "type": "quantitative"}, "y": {"field": "v", "type": "quantitative", "title": "Log of incidence"}}}
  ]}
 ],
 "resolve": {"scale": {"y": "independent"}, "axis": {"y": "independent"}}},
{"title": "Coatzacoalcos, Veracruz", "width": 186, "height": 190,
 "layer": [
  {"layer": [
   {"data": {"name": "green"}, "transform": [{"filter": "datum.city === 'Coatza'"}],
    "mark": {"type": "area", "color": "#9FCAC5", "opacity": 0.4},
    "encoding": {
     "x": {"field": "month", "type": "quantitative", "scale": {"domain": [0.45, 12.55], "nice": false, "zero": false}, "axis": {"title": "month", "format": ".2f", "tickCount": 100, "labelOverlap": false, "gridColor": "white", "values": [0.5,1,1.5,2,2.5,3,3.5,4,4.5,5,5.5,6,6.5,7,7.5,8,8.5,9,9.5,10,10.5,11,11.5,12,12.5], "labelExpr": "datum.value % 1 === 0 ? format(datum.value, 'd') : ''", "tickOpacity": {"condition": {"test": "datum.value % 1 !== 0", "value": 0}, "value": 1}, "gridWidth": {"condition": {"test": "datum.value % 1 !== 0", "value": 0.9}, "value": 1.8}, "grid": true}},
     "y": {"field": "lo", "type": "quantitative", "title": "Index P", "scale": {"domain": [0.175, 3.11], "nice": false, "zero": false}, "axis": {"format": ".2f", "tickCount": 100, "labelOverlap": false, "gridColor": "white", "values": [0.5,1,1.5,2,2.5,3], "labelExpr": "indexof([1,2,3], datum.value) >= 0 ? format(datum.value, 'd') : ''", "tickOpacity": {"condition": {"test": "indexof([1,2,3], datum.value) < 0", "value": 0}, "value": 1}, "gridWidth": {"condition": {"test": "indexof([1,2,3], datum.value) < 0", "value": 0.9}, "value": 1.8}, "grid": true}},
     "y2": {"field": "hi"}}},
   {"data": {"name": "green"}, "transform": [{"filter": "datum.city === 'Coatza'"}],
    "mark": {"type": "line", "color": "#6DB89F", "strokeWidth": 2.3},
    "encoding": {"x": {"field": "month", "type": "quantitative"}, "y": {"field": "p", "type": "quantitative", "title": "Index P"}}},
   {"data": {"name": "rho"}, "transform": [{"filter": "datum.city === 'Coatza'"}],
    "mark": {"type": "text", "align": "left", "baseline": "top", "fontSize": 14, "text": "ρ=", "color": "black"},
    "encoding": {"x": {"datum": 0.95, "type": "quantitative"}, "y": {"datum": 3.03, "type": "quantitative"}}},
   {"data": {"name": "rho"}, "transform": [{"filter": "datum.city === 'Coatza'"}],
    "mark": {"type": "text", "align": "left", "baseline": "top", "fontSize": 14, "dy": 2, "color": "black"},
    "encoding": {"x": {"datum": 2.4, "type": "quantitative"}, "y": {"datum": 3.03, "type": "quantitative"}, "text": {"field": "r"}}}
  ]},
  {"layer": [
   {"data": {"name": "pink"}, "transform": [{"filter": "datum.city === 'Coatza'"}],
    "mark": {"type": "line", "color": "#F28CB1", "strokeWidth": 2},
    "encoding": {"x": {"field": "month", "type": "quantitative"}, "detail": {"field": "seg"},
     "y": {"field": "v", "type": "quantitative", "title": "Log of incidence", "scale": {"domain": [-5.18, 6.45], "nice": false, "zero": false}, "axis": {"orient": "right", "grid": false, "tickCount": 100, "labelOverlap": false, "values": [-3,0,3,6], "format": "d", "labelExpr": "replace(datum.label, '−', '-')"}}}},
   {"data": {"name": "pink"}, "transform": [{"filter": "datum.city === 'Coatza'"}],
    "mark": {"type": "circle", "color": "#E35FD0", "size": 18, "opacity": 1},
    "encoding": {"x": {"field": "month", "type": "quantitative"}, "y": {"field": "v", "type": "quantitative", "title": "Log of incidence"}}}
  ]}
 ],
 "resolve": {"scale": {"y": "independent"}, "axis": {"y": "independent"}}}
], "spacing": 88, "bounds": "flush"}
],
"spacing": 8,
"config": {
 "font": "Liberation Sans",
 "view": {"fill": "#EBEBEB", "stroke": null},
 "title": {"fontSize": 17, "fontWeight": "normal", "color": "black", "frame": "group", "anchor": "middle", "offset": 6},
 "axis": {"domain": false, "tickColor": "#333333", "tickSize": 4, "tickWidth": 1, "labelColor": "#4D4D4D", "labelFontSize": 13, "labelPadding": 2, "titleFontSize": 14, "titleFontWeight": "normal", "titleColor": "black", "titlePadding": 2, "gridColor": "white", "gridOpacity": 1, "labelOverlap": false, "labelFlush": false}
}
}
